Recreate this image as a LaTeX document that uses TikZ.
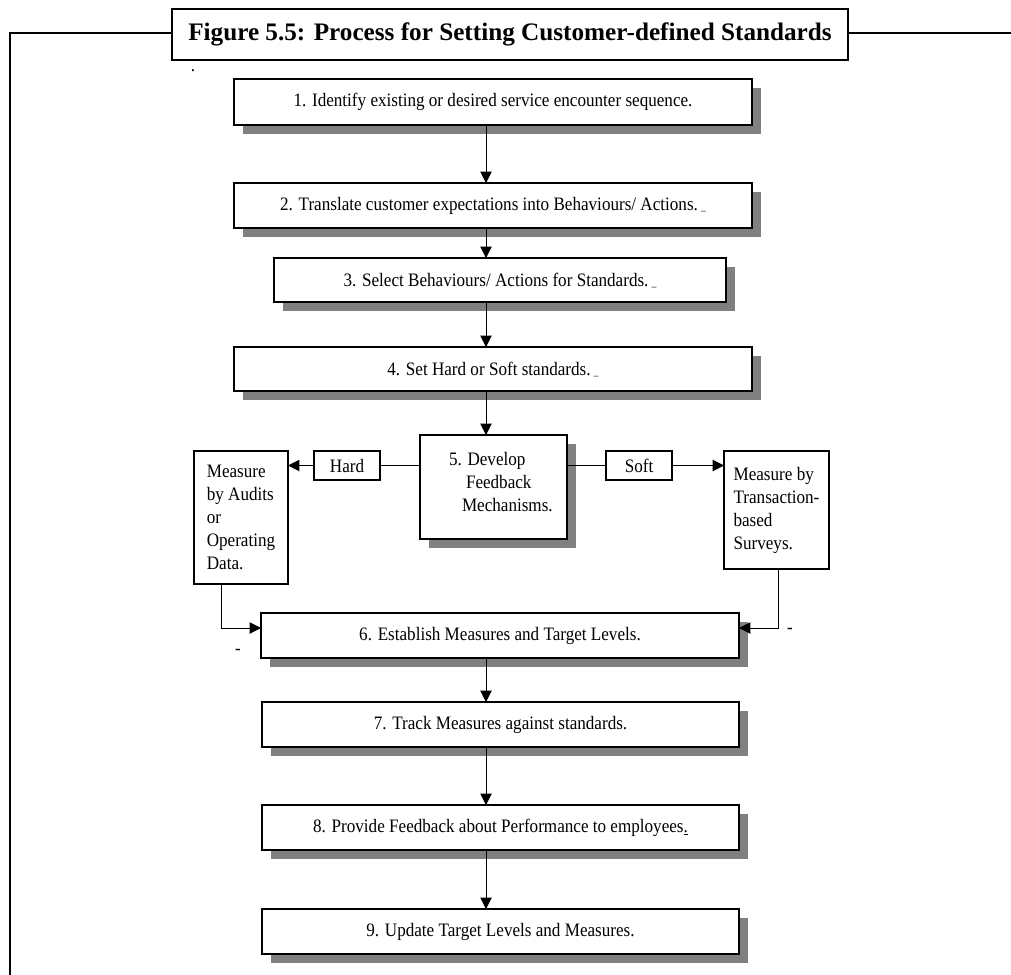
\documentclass[tikz,border=0pt]{standalone}
\usepackage{fontspec}
\setmainfont{Liberation Serif}[FakeStretch=0.9]
\newfontfamily\titlefont{Liberation Serif}
\usetikzlibrary{arrows.meta,shadows}

% body text of the boxes
\newcommand\stepfontsize{\fontsize{14.25pt}{17.25pt}\selectfont}
% short low rule left after some of the step texts
\newcommand\fieldmark{\,{\fontsize{8pt}{8pt}\selectfont\_}}

\begin{document}
\begin{tikzpicture}[x=0.75pt,y=-0.75pt,
  every node/.style={inner sep=0pt, outer sep=0pt},
  plainbox/.style={draw, line width=0.8pt, fill=white, font=\stepfontsize},
  stepbox/.style={plainbox, minimum height=33.75pt,
    general shadow={fill=black!50, shadow xshift=6.75pt, shadow yshift=-6.75pt}},
  framerule/.style={line width=1.7pt},
  link/.style={line width=0.75pt},
  arr/.style={link, -{Triangle[length=8.5pt,width=8.5pt]}}
]
\useasboundingbox (0,0) rectangle (1011,975);

% outer frame with the caption box on its top edge
\coordinate (ftl) at (10,33);
\coordinate (fbl) at (10,975);
\coordinate (ftr) at (1011,33);
\node[draw, line width=1.7pt, fill=white, minimum width=507pt, minimum height=38.25pt,
      font=\titlefont\bfseries\fontsize{18.9pt}{22pt}\selectfont] (title) at (510,34.5)
      {Figure 5.5: Process for Setting Customer-defined Standards};
\draw[framerule] (title.west |- ftl) -- (ftl) -- (fbl);
\draw[framerule] (title.east |- ftl) -- (ftr);

\node[font=\stepfontsize] (dot) at (193,71) {.};

% main sequence of steps
\node[stepbox, minimum width=388.5pt, minimum height=34.5pt] (b1) at (493,102)
  {1. Identify existing or desired service encounter sequence.};
\node[stepbox, minimum width=388.5pt] (b2) at (493,205.5)
  {2. Translate customer expectations into Behaviours/ Actions.\fieldmark};
\node[stepbox, minimum width=339pt, minimum height=33pt] (b3) at (500,280)
  {3. Select Behaviours/ Actions for Standards.\fieldmark};
\node[stepbox, minimum width=388.5pt, minimum height=33pt] (b4) at (493,369)
  {4. Set Hard or Soft standards.\fieldmark};
\node[stepbox, minimum width=110.25pt, minimum height=78pt] (b5) at (493.5,487) {};
\node[font=\stepfontsize, align=left, anchor=north west] (b5text) at (449,452)
  {5. Develop\\\hspace*{12.75pt}Feedback\\\hspace*{9.75pt}Mechanisms.};

% hard / soft branches
\node[plainbox, minimum width=49.5pt, minimum height=21.75pt] (hard) at (347,465.5) {Hard};
\node[plainbox, minimum width=49.5pt, minimum height=21.75pt] (soft) at (639,465.5) {Soft};
\node[plainbox, minimum width=70.5pt, minimum height=99.75pt, align=left] (measA) at (241,517.5)
  {Measure\\by Audits\\or\\Operating\\Data.};
\node[plainbox, minimum width=78.75pt, minimum height=88.5pt, align=left] (measT) at (776.5,510)
  {Measure by\\Transaction-\\based\\Surveys.};

\node[stepbox, minimum width=358.5pt] (b6) at (500,635.5)
  {6. Establish Measures and Target Levels.};
\node[stepbox, minimum width=357.75pt] (b7) at (500.5,724.5)
  {7. Track Measures against standards.};
\node[stepbox, minimum width=357.75pt] (b8) at (500.5,827.5)
  {8. Provide Feedback about Performance to employees\underline{.}};
\node[stepbox, minimum width=357.75pt] (b9) at (500.5,931.5)
  {9. Update Target Levels and Measures.};

\node[font=\stepfontsize] (dashl) at (238,652) {-};
\node[font=\stepfontsize] (dashr) at (790,631) {-};

% connectors
\coordinate (ax) at (486,0);
\draw[arr] (b1.south -| ax) -- (b2.north -| ax);
\draw[arr] (b2.south -| ax) -- (b3.north -| ax);
\draw[arr] (b3.south -| ax) -- (b4.north -| ax);
\draw[arr] (b4.south -| ax) -- (b5.north -| ax);

\draw[link] (hard.east) -- (hard.east -| b5.west);
\draw[arr] (hard.west) -- (hard.west -| measA.east);
\draw[link] (soft.west) -- (soft.west -| b5.east);
\draw[arr] (soft.east) -- (soft.east -| measT.west);

\coordinate (jl) at (221,628);
\coordinate (jr) at (778,628);
\draw[arr] (measA.south -| jl) -- (jl) -- (jl -| b6.west);
\draw[arr] (measT.south -| jr) -- (jr) -- (jr -| b6.east);

\draw[arr] (b6.south -| ax) -- (b7.north -| ax);
\draw[arr] (b7.south -| ax) -- (b8.north -| ax);
\draw[arr] (b8.south -| ax) -- (b9.north -| ax);
\end{tikzpicture}
\end{document}
